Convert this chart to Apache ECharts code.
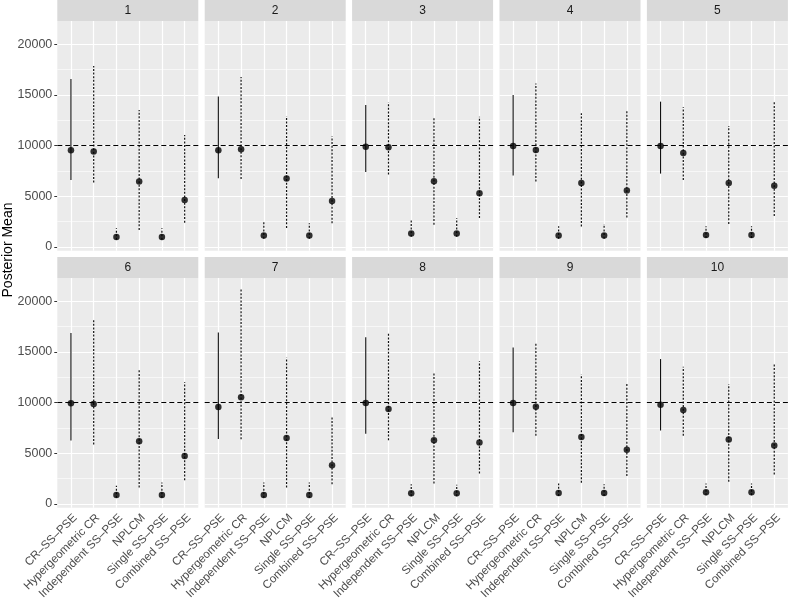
<!DOCTYPE html>
<html>
<head>
<meta charset="utf-8">
<script src="https://cdn.jsdelivr.net/npm/echarts@6/dist/echarts.min.js"></script>
<style>html,body{margin:0;padding:0;background:#fff}#c{width:788px;height:610px}</style>
</head>
<body>
<div id="c"></div>
<script>
const methods = ['CR–SS–PSE', 'Hypergeometric CR', 'Independent SS–PSE', 'NPLCM', 'Single SS–PSE', 'Combined SS–PSE'];
const panels = ['1','2','3','4','5','6','7','8','9','10'];
const truth = 10000;
const yTicks = [0, 5000, 10000, 15000, 20000];
const yMinor = [2500, 7500, 12500, 17500];

const meanVals = [
  [9540, 9410, 990, 6450, 990, 4640],
  [9540, 9640, 1120, 6750, 1120, 4540],
  [9900, 9840, 1320, 6480, 1320, 5300],
  [9970, 9570, 1120, 6320, 1120, 5560],
  [9970, 9280, 1180, 6320, 1180, 6050],
  [9930, 9860, 890, 6190, 890, 4730],
  [9570, 10530, 890, 6520, 890, 3810],
  [9960, 9370, 1060, 6290, 1060, 6060],
  [9960, 9600, 1090, 6620, 1090, 5360],
  [9800, 9270, 1160, 6360, 1160, 5760]
];
const upperVals = [
  [16580, 17870, 1840, 13520, 1840, 11050],
  [14840, 16780, 2440, 12930, 2340, 10920],
  [14020, 14280, 2600, 12730, 2860, 12860],
  [15000, 16120, 2040, 13190, 2270, 13420],
  [14340, 13790, 2040, 11940, 2040, 14440],
  [16880, 18300, 1790, 13210, 2120, 12020],
  [16910, 21200, 2120, 14430, 2120, 8710],
  [16450, 16910, 1950, 12940, 1890, 14100],
  [15430, 15860, 2020, 12780, 1950, 11850],
  [14300, 13540, 2020, 11850, 2020, 13870]
];
const lowerVals = [
  [6610, 6350, 700, 1680, 700, 2400],
  [6780, 6710, 820, 1880, 820, 2340],
  [7400, 7140, 1000, 2200, 1000, 2860],
  [7040, 6450, 820, 2010, 820, 2900],
  [7240, 6610, 880, 2270, 880, 3060],
  [6260, 5860, 600, 1620, 600, 2350],
  [6420, 6390, 600, 1620, 600, 1950],
  [6920, 6290, 760, 2020, 760, 3010],
  [7080, 6720, 790, 2090, 790, 2750],
  [7250, 6720, 860, 2190, 860, 2910]
];

const FONT = '"Liberation Sans", Arial, Helvetica, sans-serif';
const chart = echarts.init(document.getElementById('c'), null, {renderer: 'canvas'});

const PL = 57.3, PW = 141, PSTEP = 147.4;
const rowTop = [21, 278], PH = 229.7, STRIP = 21;
const grids = [], xAxes = [], yAxes = [], series = [], graphics = [];
const catIdx = methods.map((m, i) => i + 1);

panels.forEach((p, k) => {
  const col = k % 5, row = Math.floor(k / 5);
  const left = PL + col * PSTEP, top = rowTop[row];
  grids.push({left: left, top: top, width: PW, height: PH, show: true,
    backgroundColor: '#ebebeb', borderWidth: 0, containLabel: false});
  graphics.push({type: 'rect', left: left, top: top - STRIP, z: 10,
    shape: {width: PW, height: STRIP}, style: {fill: '#d9d9d9'}, silent: true});
  graphics.push({type: 'text', x: left + PW / 2, y: top - STRIP / 2, z: 11,
    style: {text: p, fill: '#1a1a1a', font: '12px ' + FONT, textAlign: 'center', textVerticalAlign: 'middle'}});
  xAxes.push({type: 'value', gridIndex: k, min: 0.4, max: 6.6,
    axisLine: {show: false},
    axisTick: {show: row === 1, length: 3, customValues: catIdx, lineStyle: {color: '#333333', width: 1}},
    axisLabel: {show: row === 1, customValues: catIdx, rotate: 45, margin: 4, verticalAlign: 'top',
      color: '#4d4d4d', fontSize: 11.6, fontFamily: FONT,
      formatter: v => methods[Math.round(v) - 1] || ''},
    splitLine: {show: false}});
  yAxes.push({type: 'value', gridIndex: k, min: -370, max: 22300,
    axisLine: {show: false},
    axisTick: {show: col === 0, length: 3, customValues: yTicks, lineStyle: {color: '#333333', width: 1}},
    axisLabel: {show: col === 0, customValues: yTicks, margin: 5, color: '#4d4d4d', fontSize: 12.5, fontFamily: FONT,
      formatter: v => String(Math.round(v))},
    splitLine: {show: false}});
  // gridlines (minor + major horizontal, vertical at categories)
  series.push({type: 'line', xAxisIndex: k, yAxisIndex: k, data: [], silent: true, z: 1,
    markLine: {silent: true, z: 1, symbol: 'none', label: {show: false}, animation: false,
      lineStyle: {color: '#ffffff', width: 0.6, type: 'solid'},
      data: yMinor.map(v => ({yAxis: v}))}});
  series.push({type: 'line', xAxisIndex: k, yAxisIndex: k, data: [], silent: true, z: 1,
    markLine: {silent: true, z: 1, symbol: 'none', label: {show: false}, animation: false,
      lineStyle: {color: '#ffffff', width: 1.2, type: 'solid'},
      data: yTicks.map(v => ({yAxis: v})).concat(catIdx.map(v => ({xAxis: v})))}});
  // error bars
  const barData = methods.map((m, i) => [i + 1, lowerVals[k][i], upperVals[k][i], i === 0 ? 1 : 0]);
  series.push({type: 'custom', xAxisIndex: k, yAxisIndex: k, data: barData, z: 6,
    encode: {x: 0, y: [1, 2]},
    renderItem: (params, api) => {
      const a = api.coord([api.value(0), api.value(1)]);
      const b = api.coord([api.value(0), api.value(2)]);
      const solid = api.value(3) === 1;
      return {type: 'line', shape: {x1: a[0], y1: a[1], x2: b[0], y2: b[1]},
        style: {stroke: '#111111', lineWidth: solid ? 1.1 : 1.2, lineDash: solid ? null : [2, 1.6], fill: null}};
    }});
  // points + reference line
  series.push({type: 'scatter', xAxisIndex: k, yAxisIndex: k, z: 8,
    data: methods.map((m, i) => [i + 1, meanVals[k][i]]),
    symbol: 'circle', symbolSize: 6.5, itemStyle: {color: '#000000'},
    markLine: {silent: true, z: 7, symbol: 'none', label: {show: false}, animation: false,
      lineStyle: {color: '#000000', width: 1, type: [5, 3]},
      data: [{yAxis: truth}]}});
});

graphics.push({type: 'text', x: 8, y: 250, rotation: Math.PI / 2, z: 11,
  style: {text: 'Posterior Mean', fill: '#000000', font: '14px ' + FONT, textAlign: 'center', textVerticalAlign: 'middle'}});

chart.setOption({
  animation: false,
  backgroundColor: '#ffffff',
  grid: grids, xAxis: xAxes, yAxis: yAxes, series: series, graphic: graphics
});
</script>
</body>
</html>
